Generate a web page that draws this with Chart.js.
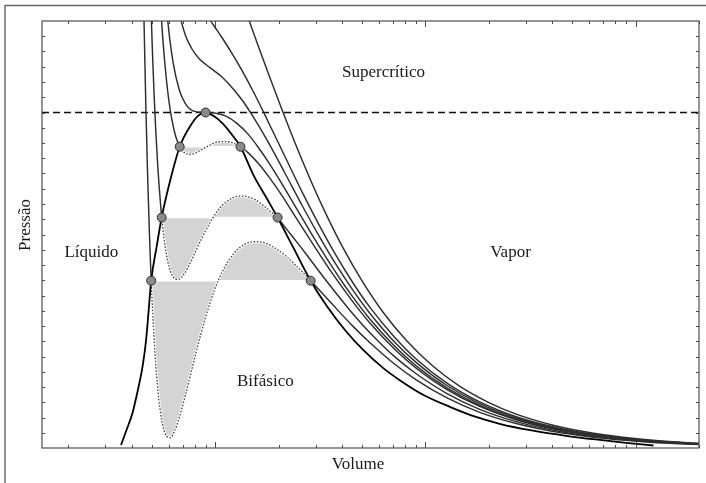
<!DOCTYPE html>
<html>
<head>
<meta charset="utf-8">
<script src="https://cdn.jsdelivr.net/npm/chart.js@4/dist/chart.umd.min.js"></script>
<style>
  html, body { margin: 0; padding: 0; background: #fff; }
  #wrap { position: relative; width: 706px; height: 483px; }
</style>
</head>
<body>
<div id="wrap"><canvas id="c" width="706" height="483"></canvas></div>
<script>
// ---- axes (volume relative to Vc, log; pressure relative to Pc, linear) ----
const VOL_UNIT = 0.9;                 // tick unit of the volume axis, in V/Vc
const X_MIN = 0.15 / VOL_UNIT;
const X_MAX = 200 / VOL_UNIT;
const Y_MIN = 0;
const Y_MAX = 28 / 22;
const xTicks = [0.2,0.3,0.4,0.5,0.6,0.7,0.8,0.9,1,2,3,4,5,6,7,8,9,10,20,30,40,50,60,70,80,90,100,200];
const xMajorTicks = [1, 10, 100];
const yTickStep = 1 / 22;
const yTickCount = 28;

const xTitle = 'Volume';
const yTitle = 'Pressão';
const regionLabels = ['Supercrítico', 'Líquido', 'Vapor', 'Bifásico'];
const regionLabelV = [7.02, 0.286, 28.2, 1.924];
const regionLabelP = [1.118, 0.583, 0.583, 0.199];

// ---- isotherms: [V/Vc, P/Pc] ----
const liquid1 = [[0.49,1.93],[0.50,1.56],[0.51,1.258],[0.52,1.012],[0.53,0.812],[0.54,0.647],[0.551,0.4987]];
const loop1 = [[0.551,0.4987],[0.56,0.405],[0.58,0.244],[0.60,0.142],[0.62,0.080],[0.65,0.036],[0.68,0.031],[0.71,0.049],[0.75,0.091],[0.80,0.155],[0.90,0.284],[1.0,0.39],[1.1,0.469],[1.2,0.525],[1.3,0.563],[1.45,0.597],[1.6,0.612],[1.75,0.615],[1.9,0.612],[2.1,0.599],[2.4,0.573],[2.7,0.543],[3.0,0.514],[3.16,0.4987]];
const vapor1 = [[3.16,0.4987],[3.5,0.469],[4,0.429],[5,0.364],[6,0.316],[8,0.248],[10,0.204],[14,0.150],[20,0.107],[30,0.0729],[50,0.0443],[80,0.0279],[130,0.0173],[230,0.0098]];

const liquid2 = [[0.53,1.686],[0.54,1.48],[0.55,1.308],[0.56,1.163],[0.57,1.042],[0.58,0.941],[0.59,0.857],[0.60,0.787],[0.618,0.687]];
const loop2 = [[0.618,0.687],[0.64,0.606],[0.66,0.558],[0.68,0.527],[0.70,0.511],[0.72,0.503],[0.75,0.504],[0.78,0.514],[0.82,0.535],[0.88,0.575],[0.95,0.62],[1.05,0.672],[1.15,0.71],[1.25,0.733],[1.35,0.746],[1.45,0.751],[1.55,0.75],[1.7,0.742],[1.85,0.727],[2.0,0.709],[2.2,0.687]];
const vapor2 = [[2.2,0.687],[2.4,0.656],[2.7,0.616],[3.0,0.579],[3.5,0.523],[4,0.476],[5,0.401],[6,0.346],[8,0.27],[10,0.222],[14,0.163],[20,0.116],[30,0.0787],[50,0.0478],[80,0.0301],[130,0.0186],[230,0.0105]];

const liquid3 = [[0.58,1.612],[0.60,1.407],[0.62,1.256],[0.64,1.146],[0.66,1.064],[0.68,1.004],[0.70,0.962],[0.72,0.93],[0.74,0.909],[0.753,0.898]];
const loop3 = [[0.753,0.898],[0.78,0.884],[0.81,0.877],[0.85,0.875],[0.90,0.88],[0.96,0.89],[1.03,0.9],[1.10,0.909],[1.18,0.913],[1.26,0.913],[1.35,0.909],[1.42,0.902],[1.465,0.898]];
const vapor3 = [[1.465,0.898],[1.6,0.879],[1.8,0.845],[2.0,0.808],[2.3,0.754],[2.7,0.685],[3.2,0.613],[4,0.521],[5,0.437],[6,0.375],[8,0.292],[10,0.239],[14,0.175],[20,0.1246],[30,0.0842],[50,0.0511],[80,0.0321],[130,0.0199],[230,0.0113]];

const critical = [[0.55,2.391],[0.6,1.667],[0.63,1.43],[0.66,1.276],[0.70,1.15],[0.75,1.067],[0.80,1.027],[0.87,1.005],[1.0,1.0],[1.12,0.998],[1.25,0.989],[1.4,0.969],[1.6,0.934],[1.8,0.892],[2.0,0.85],[2.3,0.789],[2.7,0.715],[3.2,0.637],[4,0.54],[5,0.451],[6,0.387],[8,0.301],[10,0.246],[14,0.18],[20,0.128],[30,0.0866],[50,0.0525],[80,0.033],[130,0.0204],[230,0.0116]];

const super1 = [[0.62,1.833],[0.66,1.57],[0.70,1.413],[0.75,1.297],[0.8,1.232],[0.86,1.19],[0.93,1.161],[1.0,1.144],[1.1,1.124],[1.2,1.105],[1.35,1.071],[1.5,1.035],[1.7,0.983],[2.0,0.908],[2.4,0.816],[2.9,0.719],[3.5,0.627],[4.2,0.544],[5,0.472],[6,0.404],[8,0.313],[10,0.256],[14,0.187],[20,0.133],[30,0.0898],[50,0.0544],[80,0.0342],[130,0.0211],[230,0.012]];
const super2 = [[0.8,1.449],[0.9,1.35],[1.0,1.296],[1.1,1.257],[1.2,1.222],[1.35,1.171],[1.5,1.122],[1.7,1.058],[2.0,0.968],[2.4,0.865],[2.9,0.759],[3.5,0.66],[4.2,0.571],[5,0.494],[6,0.422],[8,0.327],[10,0.266],[14,0.194],[20,0.138],[30,0.0932],[50,0.0565],[80,0.0355],[130,0.0219],[230,0.0124]];
const super3 = [[1.2,1.499],[1.4,1.379],[1.6,1.279],[1.8,1.19],[2.0,1.112],[2.3,1.011],[2.7,0.9],[3.2,0.79],[3.8,0.688],[4.5,0.597],[5.5,0.502],[7,0.404],[9,0.321],[12,0.245],[16,0.186],[22,0.137],[30,0.101],[45,0.068],[70,0.044],[110,0.0281],[160,0.0193],[230,0.0135]];

// coexistence (binodal) curve
const binodal = [[0.396,0.0089],[0.4206,0.0535],[0.449,0.104],[0.4704,0.1576],[0.501,0.2417],[0.521,0.321],[0.536,0.41],[0.551,0.4987],[0.585,0.60],[0.618,0.687],[0.688,0.812],[0.753,0.898],[0.85,0.962],[0.92,0.99],[1.0,1.0],[1.09,0.99],[1.2,0.968],[1.33,0.935],[1.465,0.898],[1.694,0.812],[1.95,0.745],[2.2,0.687],[2.6,0.60],[3.16,0.4987],[3.8,0.42],[4.6,0.3517],[5.6,0.2929],[7,0.238],[8.45,0.2007],[11,0.1563],[14.6,0.122],[19,0.0941],[25.3,0.0714],[35,0.0532],[52.7,0.0357],[75,0.024],[100,0.0155],[135,0.0075]];

// saturation pressures and marked points
const satPressures = [0.4987, 0.687, 0.898];
const satLiquidV = [0.551, 0.618, 0.753];
const satVaporV = [3.16, 2.2, 1.465];
const criticalPoint = [1.0, 1.0];

// ---- build datasets ----
const toXY = arr => arr.map(p => ({x: p[0], y: p[1]}));
const datasets = [];
const solid = (data, order) => ({data: toXY(data), borderColor: '#2e2e2e', borderWidth: 1.45, pointRadius: 0, fill: false, order});

// marked points (top)
const dots = [];
for (let i = 0; i < satPressures.length; i++) {
  dots.push([satLiquidV[i], satPressures[i]], [satVaporV[i], satPressures[i]]);
}
dots.push(criticalPoint);
datasets.push({data: toXY(dots), showLine: false, pointRadius: 4.5, pointBackgroundColor: '#8a8a8a', pointBorderColor: '#2e2e2e', pointBorderWidth: 1, order: 0});

datasets.push({data: toXY(binodal), borderColor: '#000', borderWidth: 1.8, pointRadius: 0, fill: false, order: 1});

[liquid1, vapor1, liquid2, vapor2, liquid3, vapor3, critical, super1, super2, super3].forEach(d => datasets.push(solid(d, 2)));

datasets.push({data: [{x: X_MIN, y: 1}, {x: X_MAX, y: 1}], borderColor: '#111', borderWidth: 1.3, borderDash: [7, 4], pointRadius: 0, fill: false, order: 3});

const loops = [loop1, loop2, loop3];
loops.forEach((lp, i) => {
  datasets.push({data: toXY(lp), borderColor: '#444', borderWidth: 1.3, borderDash: [1.6, 1.6], pointRadius: 0, fill: false, order: 4});
  datasets.push({data: toXY(lp), borderColor: '#ffffff', borderWidth: 2.6, pointRadius: 0, fill: false, order: 5});
  datasets.push({data: [{x: satLiquidV[i], y: satPressures[i]}, {x: satVaporV[i], y: satPressures[i]}], borderColor: '#ffffff', borderWidth: 1.5, pointRadius: 0, fill: false, order: 6});
  datasets.push({data: toXY(lp), borderWidth: 0, borderColor: 'rgba(0,0,0,0)', backgroundColor: '#d4d4d4', pointRadius: 0, fill: {value: satPressures[i]}, order: 7});
});

const FONT = '17px "Liberation Serif", "DejaVu Serif", serif';

const decor = {
  id: 'decor',
  afterDatasetsDraw(chart) {
    const {ctx, chartArea: a, scales: {x, y}} = chart;
    ctx.save();
    ctx.strokeStyle = '#4a4a4a';
    ctx.lineWidth = 1;
    ctx.beginPath();
    for (const t of x.ticks) {
      const px = Math.round(x.getPixelForValue(t.value)) + 0.5;
      const len = t.major ? 6 : 3;
      ctx.moveTo(px, a.bottom); ctx.lineTo(px, a.bottom - len);
      ctx.moveTo(px, a.top); ctx.lineTo(px, a.top + len);
    }
    for (const t of y.ticks) {
      if (t.value <= Y_MIN || t.value >= Y_MAX) continue;
      const py = Math.round(y.getPixelForValue(t.value)) + 0.5;
      ctx.moveTo(a.left, py); ctx.lineTo(a.left + 3, py);
      ctx.moveTo(a.right, py); ctx.lineTo(a.right - 3, py);
    }
    ctx.stroke();
    ctx.lineWidth = 1.2;
    ctx.strokeStyle = '#505050';
    ctx.strokeRect(a.left, a.top, a.right - a.left, a.bottom - a.top);
    ctx.restore();
  },
  afterDraw(chart) {
    const {ctx, chartArea: a, scales: {x, y}} = chart;
    ctx.save();
    // outer figure frame
    ctx.strokeStyle = '#666';
    ctx.lineWidth = 1.4;
    ctx.beginPath();
    ctx.moveTo(5, chart.height + 2); ctx.lineTo(5, 5.5); ctx.lineTo(chart.width + 2, 5.5);
    ctx.stroke();
    // region labels
    ctx.fillStyle = '#1a1a1a';
    ctx.font = FONT;
    ctx.textAlign = 'center';
    ctx.textBaseline = 'middle';
    regionLabels.forEach((txt, i) => {
      ctx.fillText(txt, x.getPixelForValue(regionLabelV[i]), y.getPixelForValue(regionLabelP[i]));
    });
    // axis titles
    ctx.fillText(xTitle, a.left + 316, a.bottom + 17);
    ctx.translate(a.left - 16.5, a.top + 204);
    ctx.rotate(-Math.PI / 2);
    ctx.fillText(yTitle, 0, 0);
    ctx.restore();
  }
};

new Chart(document.getElementById('c'), {
  type: 'line',
  data: {datasets},
  plugins: [decor],
  options: {
    responsive: false,
    animation: false,
    devicePixelRatio: 1,
    layout: {padding: {left: 42, top: 21, right: 7, bottom: 35}},
    plugins: {legend: {display: false}, tooltip: {enabled: false}},
    elements: {line: {cubicInterpolationMode: 'monotone'}, point: {radius: 0}},
    scales: {
      x: {
        type: 'logarithmic', min: X_MIN, max: X_MAX,
        ticks: {display: false},
        grid: {display: false, drawTicks: false},
        border: {display: false},
        afterBuildTicks: s => { s.ticks = xTicks.map(v => ({value: v / VOL_UNIT, major: xMajorTicks.includes(v)})); }
      },
      y: {
        type: 'linear', min: Y_MIN, max: Y_MAX,
        ticks: {display: false},
        grid: {display: false, drawTicks: false},
        border: {display: false},
        afterBuildTicks: s => {
          const t = [];
          for (let k = 0; k <= yTickCount; k++) t.push({value: k * yTickStep});
          s.ticks = t;
        }
      }
    }
  }
});
</script>
</body>
</html>
